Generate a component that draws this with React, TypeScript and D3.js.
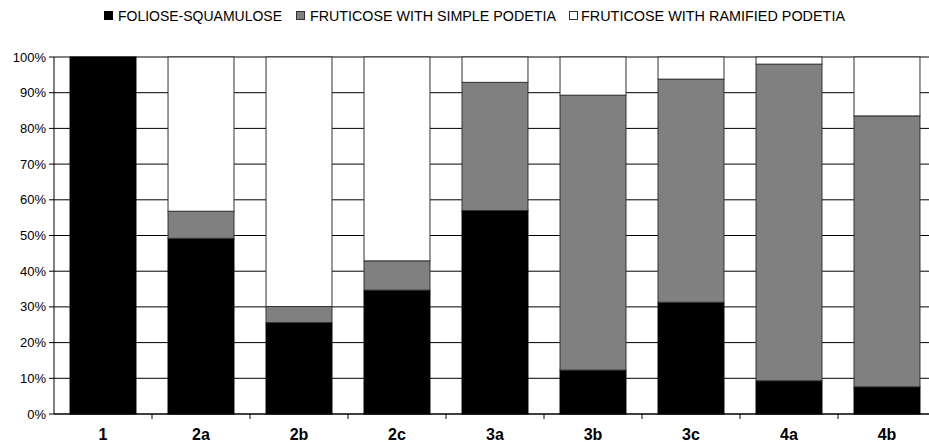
import React from "react";
import * as d3 from "d3";

const categories = ["1", "2a", "2b", "2c", "3a", "3b", "3c", "4a", "4b"];
const foliose = [100, 49.2, 25.6, 34.7, 57.0, 12.3, 31.3, 9.3, 7.6];
const simple = [0, 7.6, 4.5, 8.2, 35.9, 77.0, 62.5, 88.7, 75.9];
const seriesNames = ["FOLIOSE-SQUAMULOSE", "FRUTICOSE WITH SIMPLE PODETIA", "FRUTICOSE WITH RAMIFIED PODETIA"];
const seriesColors = ["#000000", "#808080", "#ffffff"];
const yTicks = [0, 10, 20, 30, 40, 50, 60, 70, 80, 90, 100];

const W = 929, H = 442;
const left = 54, right = 936, top = 57, bottom = 414;

export default function App() {
  const x = d3.scaleBand().domain(categories).range([left, right]).paddingInner(0.327).paddingOuter(0.1635);
  const y = d3.scaleLinear().domain([0, 100]).range([bottom, top]);
  const rows = categories.map((c, i) => ({
    cat: c,
    s0: foliose[i],
    s1: simple[i],
    s2: Math.max(0, 100 - foliose[i] - simple[i]),
  }));
  const stack = d3.stack<any>().keys(["s0", "s1", "s2"])(rows);
  const band = (right - left) / categories.length;
  const legendItems = [
    { x: 104, tx: 118, tl: 164 },
    { x: 296, tx: 310, tl: 246 },
    { x: 569, tx: 581, tl: 264 },
  ];
  return (
    <svg width={W} height={H} style={{ display: "block", position: "absolute", left: 0, top: 0 }} fontFamily="'Liberation Sans', Arial, sans-serif">
      <rect x={0} y={0} width={W} height={H} fill="#fff" />
      {/* legend */}
      {legendItems.map((l, i) => (
        <g key={i}>
          <rect x={l.x + 0.5} y={11.5} width={8} height={8} fill={seriesColors[i]} stroke={i === 0 ? "#000" : "#333"} strokeWidth={1} />
          <text x={l.tx} y={20.5} fontSize={14} fill="#000" textLength={l.tl} lengthAdjust="spacingAndGlyphs">{seriesNames[i]}</text>
        </g>
      ))}
      {/* gridlines */}
      {yTicks.map((t) => (
        <line key={t} x1={left} x2={right} y1={y(t)} y2={y(t)} stroke="#000" strokeWidth={1} />
      ))}
      {/* bars */}
      {stack.map((layer, si) => (
        <g key={si}>
          {layer.map((d, i) => {
            const h = y(d[0]) - y(d[1]);
            if (h <= 0.01) return null;
            return (
              <rect key={i} x={x(categories[i])!} y={y(d[1])} width={x.bandwidth()} height={h}
                fill={seriesColors[si]} stroke={si === 0 ? "#000" : "#333"} strokeWidth={1} />
            );
          })}
        </g>
      ))}
      {/* axes */}
      <line x1={left} x2={left} y1={top} y2={bottom} stroke="#000" strokeWidth={1} />
      <line x1={left} x2={right} y1={bottom} y2={bottom} stroke="#000" strokeWidth={1} />
      {yTicks.map((t) => (
        <g key={t}>
          <line x1={left - 5} x2={left} y1={y(t)} y2={y(t)} stroke="#000" />
          <text x={46} y={y(t) + 4.5} fontSize={13} textAnchor="end" fill="#000">{t}%</text>
        </g>
      ))}
      {categories.map((c, i) => (
        <g key={c}>
          <line x1={left + band * (i + 1)} x2={left + band * (i + 1)} y1={bottom} y2={bottom + 5} stroke="#000" />
          <text x={x(c)! + x.bandwidth() / 2} y={440} fontSize={16} fontWeight="bold" textAnchor="middle" fill="#000">{c}</text>
        </g>
      ))}
    </svg>
  );
}
